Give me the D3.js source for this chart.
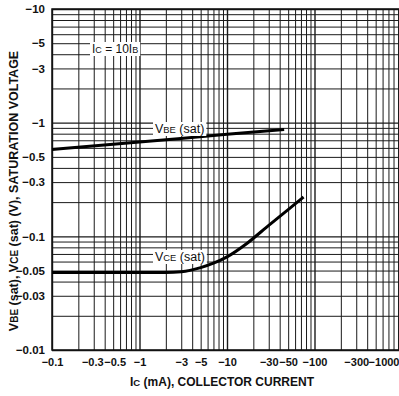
<!DOCTYPE html>
<html>
<head>
<meta charset="utf-8">
<script src="https://cdnjs.cloudflare.com/ajax/libs/d3/7.8.5/d3.min.js"></script>
<style>
body { margin: 0; background: #fff; }
text { font-family: "Liberation Sans", Arial, Helvetica, sans-serif; fill: #111; }
</style>
</head>
<body>
<div id="chart-area"></div>
<script>
// Ic (mA) and saturation voltages (V), shown as negatives on the axes
const icBE = [0.1, 1, 10, 45];
const vBE  = [0.58, 0.675, 0.79, 0.87];
const icCE = [0.1, 1, 2, 3, 5, 7, 10, 17, 30, 50, 75];
const vCE  = [0.048, 0.048, 0.048, 0.0487, 0.053, 0.058, 0.066, 0.087, 0.125, 0.172, 0.222];

// tick labels
const xTicks = [0.1, 0.3, 0.5, 1, 3, 5, 10, 30, 50, 100, 300, 1000];
const yTicks = [10, 5, 3, 1, 0.5, 0.3, 0.1, 0.05, 0.03, 0.01];

const margin = { left: 52, top: 9, right: 0, bottom: 46 };
const W = 399, H = 396;
const width = W - margin.left - margin.right;
const height = H - margin.top - margin.bottom;

const svg = d3.select("#chart-area")
    .append("svg")
    .attr("width", W)
    .attr("height", H);

const g = svg.append("g")
    .attr("transform", `translate(${margin.left}, ${margin.top})`);

/* Scales */
const x = d3.scaleLog().domain([0.1, 1000]).range([0, 350]);
const y = d3.scaleLog().domain([0.01, 10]).range([height, 0]);

// log grid values, 1..9 in each decade
const gridX = [];
[0.1, 1, 10, 100].forEach(d => d3.range(1, 10).forEach(k => gridX.push(d * k)));
gridX.push(1000);
const gridY = [];
[0.01, 0.1, 1].forEach(d => d3.range(1, 10).forEach(k => gridY.push(d * k)));
gridY.push(10);

/* Grid */
g.append("g")
    .attr("class", "grid x")
    .attr("transform", `translate(0,${height})`)
    .call(d3.axisBottom(x).tickValues(gridX).tickSize(-height).tickFormat(""))
    .call(s => s.select(".domain").remove());

g.append("g")
    .attr("class", "grid y")
    .call(d3.axisLeft(y).tickValues(gridY).tickSize(-width).tickFormat(""))
    .call(s => s.select(".domain").remove());

g.selectAll(".grid line")
    .attr("stroke", "#1a1a1a")
    .attr("stroke-width", d => Math.abs(Math.log10(d) - Math.round(Math.log10(d))) < 1e-6 ? 1.4 : 1);

/* Frame (left, bottom, top) */
g.append("path")
    .attr("d", `M${width},0H0V${height}H${width}`)
    .attr("fill", "none")
    .attr("stroke", "#111")
    .attr("stroke-width", 1.5);

/* Axes labels */
const fmt = d => "\u2212" + d;

const xAxis = g.append("g")
    .attr("transform", `translate(0,${height})`)
    .call(d3.axisBottom(x).tickValues(xTicks).tickSize(0).tickPadding(8).tickFormat(fmt));
xAxis.select(".domain").remove();
xAxis.selectAll("text")
    .attr("font-size", 11)
    .attr("font-weight", "bold")
    .attr("font-family", null)
    .attr("fill", "#111");
// crowded labels nudged apart
xAxis.selectAll(".tick").filter(d => d === 0.3).select("text").attr("x", -1.5);
xAxis.selectAll(".tick").filter(d => d === 0.5).select("text").attr("x", 1.5);
xAxis.selectAll(".tick").filter(d => d === 1000).select("text")
    .attr("text-anchor", "end")
    .attr("x", -3);

const yAxis = g.append("g")
    .call(d3.axisLeft(y).tickValues(yTicks).tickSize(0).tickPadding(7).tickFormat(fmt));
yAxis.select(".domain").remove();
yAxis.selectAll("text")
    .attr("font-size", 11.5)
    .attr("font-weight", "bold")
    .attr("font-family", null)
    .attr("fill", "#111");

/* Curves */
const line = d3.line()
    .x(d => x(d[0]))
    .y(d => y(d[1]))
    .curve(d3.curveMonotoneX);

g.append("path")
    .attr("d", line(d3.zip(icBE, vBE)))
    .attr("fill", "none")
    .attr("stroke", "#000")
    .attr("stroke-width", 3);

g.append("path")
    .attr("d", line(d3.zip(icCE, vCE)))
    .attr("fill", "none")
    .attr("stroke", "#000")
    .attr("stroke-width", 3);

/* In-plot labels with white backing */
function label(px, py, parts, size) {
    const t = g.append("text")
        .attr("x", px)
        .attr("y", py)
        .attr("font-size", size);
    parts.forEach(p => {
        t.append("tspan")
            .attr("font-size", p.small ? size * 0.75 : size)
            .text(p.t);
    });
    const b = t.node().getBBox();
    g.insert("rect", () => t.node())
        .attr("x", b.x - 2).attr("y", b.y)
        .attr("width", b.width + 4).attr("height", b.height)
        .attr("fill", "#fff");
}

label(40, 44, [{t: "I"}, {t: "C", small: true}, {t: " = 10I"}, {t: "B", small: true}], 12);
label(103, 124, [{t: "V"}, {t: "BE", small: true}, {t: " (sat)"}], 12.5);
label(103, 252, [{t: "V"}, {t: "CE", small: true}, {t: " (sat)"}], 12.5);

/* Axis titles */
const xt = svg.append("text")
    .attr("x", 130)
    .attr("y", 386)
    .attr("font-size", 12)
    .attr("font-weight", "bold");
xt.append("tspan").text("I");
xt.append("tspan").attr("font-size", 9.5).text("C");
xt.append("tspan").text(" (mA), COLLECTOR CURRENT");

const yt = svg.append("text")
    .attr("transform", "translate(18,191) rotate(-90)")
    .attr("text-anchor", "middle")
    .attr("font-size", 12.5)
    .attr("font-weight", "bold");
yt.append("tspan").text("V");
yt.append("tspan").attr("font-size", 10).text("BE");
yt.append("tspan").text(" (sat), V");
yt.append("tspan").attr("font-size", 10).text("CE");
yt.append("tspan").text(" (sat) (V), SATURATION VOLTAGE");
</script>
</body>
</html>
